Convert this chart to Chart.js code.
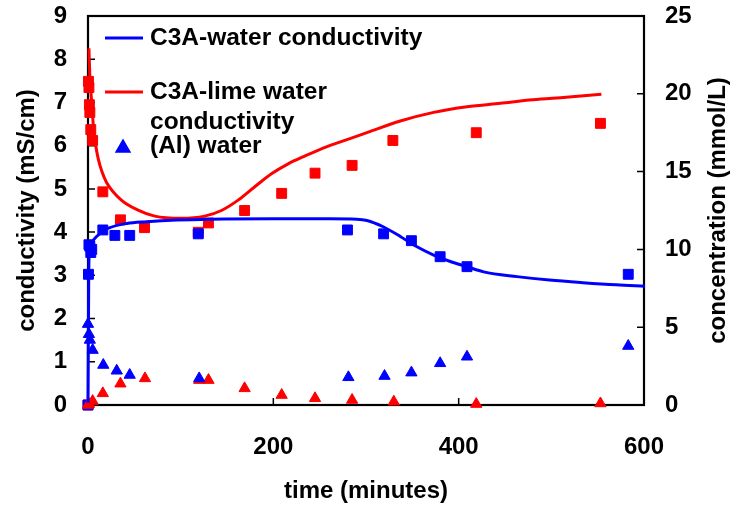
<!DOCTYPE html>
<html>
<head>
<meta charset="utf-8">
<script src="https://cdn.jsdelivr.net/npm/chart.js@4"></script>
<style>
    html, body { margin: 0; padding: 0; background: #fff; }
    .chart-box { width: 733px; height: 508px; }
</style>
</head>
<body>
<div class="chart-box"><canvas id="chartC3A" width="733" height="508"></canvas></div>
<script>
/************** data ************/

// conductivity curves (mS/cm, left axis)
const waterCondTime = [0, 0.8, 1.5, 3, 6, 13, 22, 42, 63, 96, 132, 200, 260, 290, 301, 318, 337, 355, 373, 391, 409, 427, 463, 498, 534, 570, 601];
const waterCond     = [0.05, 3.0, 3.55, 3.7, 3.82, 3.97, 4.09, 4.2, 4.24, 4.28, 4.3, 4.31, 4.31, 4.3, 4.27, 4.13, 3.9, 3.66, 3.47, 3.32, 3.2, 3.08, 2.97, 2.89, 2.83, 2.78, 2.75];

const limeCondTime = [1, 2, 4, 6, 8, 11, 15, 20, 36, 54, 72, 100, 126, 144, 162, 180, 198, 216, 234, 258, 285, 301, 337, 373, 409, 445, 480, 516, 554];
const limeCond     = [8.25, 7.6, 7.0, 6.4, 6.05, 5.7, 5.4, 5.15, 4.74, 4.51, 4.37, 4.32, 4.37, 4.5, 4.74, 5.05, 5.35, 5.58, 5.76, 5.98, 6.18, 6.3, 6.57, 6.77, 6.9, 6.98, 7.06, 7.12, 7.19];

// concentrations (mmol/L, right axis)
const waterCaTime = [0, 0.5, 1, 2, 3, 4, 16, 29, 45, 119, 280, 319, 349, 380, 409, 583];
const waterCa     = [0, 8.4, 10.3, 10.2, 9.8, 10.0, 11.25, 10.9, 10.9, 11.0, 11.25, 11.0, 10.56, 9.53, 8.89, 8.4];

const limeCaTime = [0, 0.5, 1, 1.5, 2, 3, 5, 16, 35, 61, 119, 130, 169, 209, 245, 285, 329, 419, 553];
const limeCa     = [0, 20.8, 20.4, 19.3, 18.8, 17.7, 17.0, 13.7, 11.9, 11.4, 11.1, 11.7, 12.5, 13.6, 14.9, 15.4, 17.0, 17.5, 18.1];

const waterAlTime = [0, 1, 2, 5, 16.5, 31, 45, 120, 281, 320, 349, 380, 409, 583];
const waterAl     = [5.2, 4.55, 4.18, 3.53, 2.57, 2.2, 1.93, 1.71, 1.78, 1.86, 2.08, 2.68, 3.1, 3.79];

const limeAlTime = [0, 1, 5, 16, 35, 61.5, 120, 130, 169, 209, 245, 285, 330, 419, 553];
const limeAl     = [0, 0.05, 0.25, 0.75, 1.37, 1.71, 1.6, 1.6, 1.07, 0.64, 0.43, 0.32, 0.21, 0.06, 0.1];

// axes
const timeTicks = [0, 200, 400, 600];
const condTicks = [0, 1, 2, 3, 4, 5, 6, 7, 8, 9];
const concTicks = [0, 5, 10, 15, 20, 25];
const concTitle = 'concentration (mmol/L)';

// legend entries
const legendItems = [
    { lines: ['C3A-water conductivity'], color: '#0000ff', marker: 'line', row: 22 },
    { lines: ['C3A-lime water', 'conductivity'], color: '#ff0000', marker: 'line', row: 76 },
    { lines: ['(Al) water'], color: '#0000ff', marker: 'triangle', row: 130 }
];

const FONT = "'Liberation Sans', Arial, sans-serif";
const BLUE = '#0000ff';
const RED = '#ff0000';

// x/y arrays -> scatter points
function toPoints(xs, ys) {
    return xs.map((x, i) => ({ x: x, y: ys[i] }));
}

// line dataset on the conductivity axis
function lineSet(label, xs, ys, color) {
    return {
        label: label,
        data: toPoints(xs, ys),
        yAxisID: 'y',
        showLine: true,
        borderColor: color,
        borderWidth: 3,
        pointRadius: 0,
        cubicInterpolationMode: 'monotone',
        clip: 4,
        order: 1
    };
}

// marker dataset on the concentration axis
function markerSet(label, xs, ys, color, style, radius) {
    return {
        label: label,
        data: toPoints(xs, ys),
        yAxisID: 'y2',
        showLine: false,
        pointStyle: style,
        pointRadius: radius,
        backgroundColor: color,
        borderColor: color,
        borderWidth: 1,
        clip: false,
        order: 2
    };
}

// frame box + inward tick marks
const framePlugin = {
    id: 'frame',
    beforeDatasetsDraw(chart) {
        const { ctx, chartArea: a, scales } = chart;
        ctx.save();
        ctx.strokeStyle = '#000';
        ctx.lineWidth = 1.5;
        ctx.beginPath();
        condTicks.slice(1, -1).forEach(v => {
            const y = scales.y.getPixelForValue(v);
            ctx.moveTo(a.left, y); ctx.lineTo(a.left + 7, y);
        });
        concTicks.slice(1, -1).forEach(v => {
            const y = scales.y2.getPixelForValue(v);
            ctx.moveTo(a.right, y); ctx.lineTo(a.right - 7, y);
        });
        timeTicks.slice(1, -1).forEach(v => {
            const x = scales.x.getPixelForValue(v);
            ctx.moveTo(x, a.bottom); ctx.lineTo(x, a.bottom - 7);
        });
        ctx.stroke();
        ctx.lineWidth = 2.2;
        ctx.strokeRect(a.left, a.top, a.right - a.left, a.bottom - a.top);
        ctx.restore();
    }
};

// right axis title, read bottom to top like the left one
const rightTitlePlugin = {
    id: 'rightTitle',
    afterDraw(chart) {
        const { ctx, chartArea: a } = chart;
        ctx.save();
        ctx.translate(chart.width - 15, (a.top + a.bottom) / 2);
        ctx.rotate(-Math.PI / 2);
        ctx.font = 'bold 24px ' + FONT;
        ctx.textAlign = 'center';
        ctx.textBaseline = 'middle';
        ctx.fillStyle = '#000';
        ctx.fillText(concTitle, 0, 0);
        ctx.restore();
    }
};

// legend box in the upper left corner
const legendPlugin = {
    id: 'cornerLegend',
    afterDraw(chart) {
        const { ctx, chartArea: a } = chart;
        ctx.save();
        ctx.font = 'bold 24.5px ' + FONT;
        ctx.textBaseline = 'middle';
        legendItems.forEach(item => {
            const y = a.top + item.row;
            ctx.strokeStyle = item.color;
            ctx.fillStyle = item.color;
            if (item.marker === 'line') {
                ctx.lineWidth = 3;
                ctx.beginPath();
                ctx.moveTo(a.left + 17, y);
                ctx.lineTo(a.left + 55, y);
                ctx.stroke();
            } else {
                Chart.helpers.drawPoint(ctx, { pointStyle: 'triangle', radius: 6.5, borderWidth: 1 }, a.left + 35, y + 2);
                ctx.fill();
            }
            ctx.fillStyle = '#000';
            item.lines.forEach((t, j) => {
                ctx.fillText(t, a.left + 62, y + j * 30);
            });
        });
        ctx.restore();
    }
};

function tickFont() {
    return { family: FONT, size: 24, weight: 'bold' };
}

function titleFont() {
    return { family: FONT, size: 24, weight: 'bold' };
}

// fixed axis box sizes so the plot sits where it should
function fixVertical(width) {
    return s => { s.width = width; s.paddingTop = 0; s.paddingBottom = 0; };
}

function drawChart() {
    const ctx = document.getElementById('chartC3A');

    const data = {
        datasets: [
            lineSet('C3A-water conductivity', waterCondTime, waterCond, BLUE),
            lineSet('C3A-lime water conductivity', limeCondTime, limeCond, RED),
            markerSet('(Al) water', waterAlTime, waterAl, BLUE, 'triangle', 6.5),
            markerSet('(Al) lime water', limeAlTime, limeAl, RED, 'triangle', 6.5),
            markerSet('(Ca) water', waterCaTime, waterCa, BLUE, 'rect', 7),
            markerSet('(Ca) lime water', limeCaTime, limeCa, RED, 'rect', 7)
        ]
    };

    const options = {
        responsive: false,
        animation: false,
        devicePixelRatio: 1,
        layout: { padding: { top: 16, right: 0, bottom: 0, left: 0 } },
        plugins: {
            legend: { display: false },
            tooltip: { enabled: false }
        },
        scales: {
            x: {
                type: 'linear',
                min: 0,
                max: 600,
                afterFit: s => { s.height = 103; s.paddingLeft = 0; s.paddingRight = 0; },
                afterBuildTicks: s => { s.ticks = timeTicks.map(v => ({ value: v })); },
                grid: { display: false, drawTicks: false },
                border: { display: false },
                ticks: { color: '#000', font: tickFont(), padding: 28, maxRotation: 0 },
                title: {
                    display: true,
                    text: 'time (minutes)',
                    color: '#000',
                    font: titleFont(),
                    padding: { top: 0, bottom: 2 }
                }
            },
            y: {
                type: 'linear',
                position: 'left',
                min: 0,
                max: 9,
                afterFit: fixVertical(88),
                afterBuildTicks: s => { s.ticks = condTicks.map(v => ({ value: v })); },
                grid: { display: false, drawTicks: false },
                border: { display: false },
                ticks: { color: '#000', font: tickFont(), padding: 21 },
                title: {
                    display: true,
                    text: 'conductivity (mS/cm)',
                    color: '#000',
                    font: titleFont(),
                    padding: { top: 13, bottom: 0 }
                }
            },
            y2: {
                type: 'linear',
                position: 'right',
                min: 0,
                max: 25,
                afterFit: fixVertical(89),
                afterBuildTicks: s => { s.ticks = concTicks.map(v => ({ value: v })); },
                grid: { display: false, drawTicks: false },
                border: { display: false },
                ticks: { color: '#000', font: tickFont(), padding: 21 },
                title: { display: false }
            }
        }
    };

    new Chart(ctx, {
        type: 'scatter',
        data: data,
        options: options,
        plugins: [framePlugin, rightTitlePlugin, legendPlugin]
    });
}

window.addEventListener('DOMContentLoaded', function() {
    drawChart();
});
</script>
</body>
</html>
